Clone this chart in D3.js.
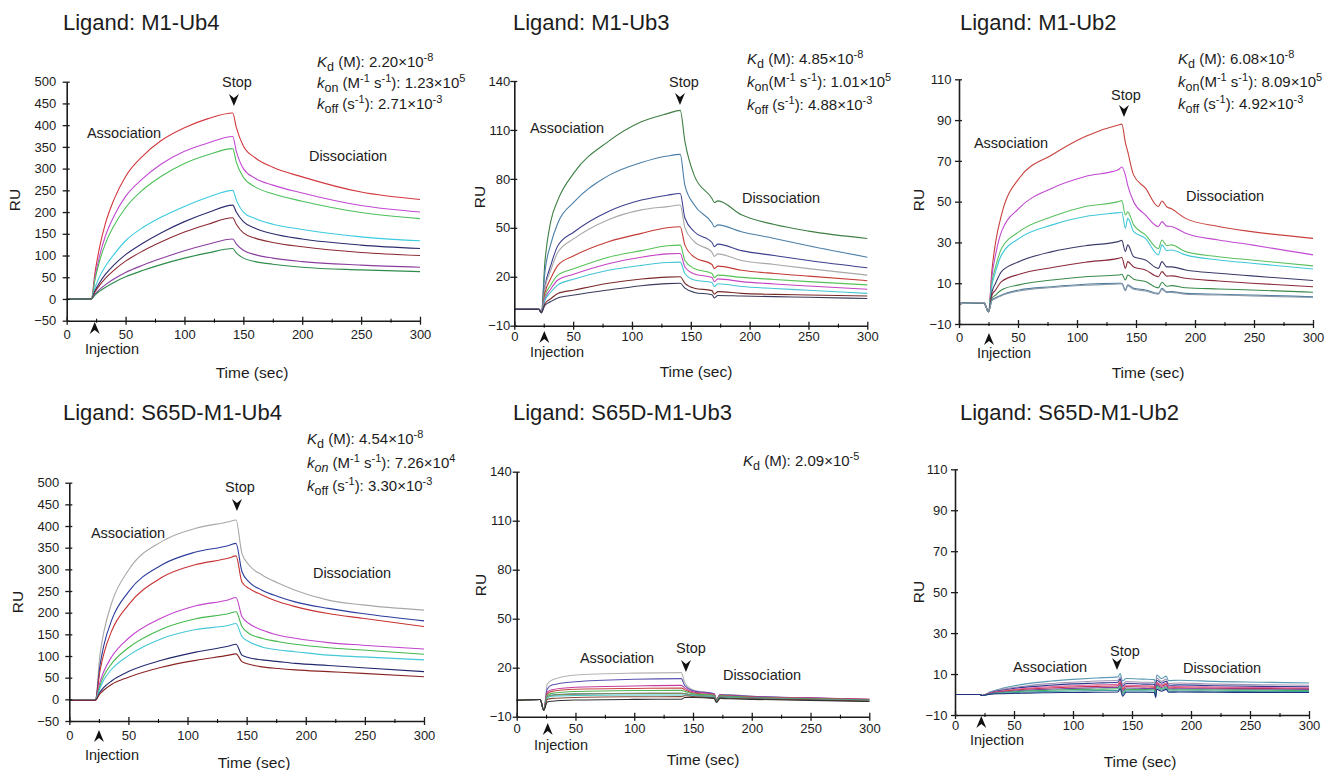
<!DOCTYPE html>
<html>
<head>
<meta charset="utf-8">
<script src="https://cdn.jsdelivr.net/npm/d3@7"></script>
<style>
  body { margin: 0; background: #fff; }
  text { font-family: "Liberation Sans", Arial, Helvetica, sans-serif; fill: #1c1c1c; }
</style>
</head>
<body>
<div id="container"></div>
<script>
/**
 * DATA (RU vs time in sec)
 * */
const timeTicks = [0, 50, 100, 150, 200, 250, 300];
const timeMinor = [25, 75, 125, 175, 225, 275];

// Ligand: M1-Ub4
const ub4Times = [0, 21, 24, 28, 33, 40, 50, 65, 80, 100, 120, 141, 144, 150, 160, 175, 200, 250, 300];
const ub4Colors = ["#d2383e", "#c24ad2", "#4cc05a", "#3ccbe0", "#2c2c6e", "#8c2a34", "#8a3e9e", "#2e8c4c"];
const ub4Values = [
  [0, 0, 60, 120, 175, 228, 282, 330, 364, 394, 415, 428, 395, 352, 325, 303, 281, 246, 229],
  [0, 0, 50, 100, 146, 190, 236, 278, 310, 340, 359, 374, 340, 300, 278, 262, 244, 215, 200],
  [0, 0, 44, 88, 128, 168, 210, 252, 282, 312, 332, 346, 315, 280, 258, 242, 225, 199, 185],
  [0, 0, 26, 52, 76, 102, 134, 165, 188, 213, 234, 250, 228, 200, 185, 172, 160, 143, 134],
  [0, 0, 19, 38, 57, 78, 102, 129, 152, 178, 199, 216, 200, 178, 163, 150, 138, 124, 116],
  [0, 0, 16, 32, 48, 66, 87, 111, 131, 154, 172, 187, 172, 152, 140, 130, 120, 107, 100],
  [0, 0, 11, 22, 33, 46, 61, 78, 93, 111, 126, 138, 127, 112, 102, 94, 86, 78, 73],
  [0, 0, 9, 18, 27, 38, 51, 66, 79, 94, 106, 116, 106, 94, 86, 80, 73, 67, 63]
];
const ub4Ticks = [-50, 0, 50, 100, 150, 200, 250, 300, 350, 400, 450, 500];
const ub4Stats = [
  [["K", "i"], ["d", "sub"], [" (M): 2.20×10"], ["-8", "sup"]],
  [["k", "i"], ["on", "sub"], [" (M"], ["-1", "sup"], [" s"], ["-1", "sup"], ["): 1.23×10"], ["5", "sup"]],
  [["k", "i"], ["off", "sub"], [" (s"], ["-1", "sup"], ["): 2.71×10"], ["-3", "sup"]]
];

// Ligand: M1-Ub3
const ub3Times = [0, 21, 23, 26, 31, 37, 51, 80, 108, 130, 141, 145, 153, 168, 170, 173, 193, 221, 250, 300];
const ub3Colors = ["#3f7f45", "#4a7ea6", "#3c3f8e", "#a8a8a8", "#c43a34", "#55c255", "#c444c4", "#44c4d4", "#7a2a2a", "#3a3a5c"];
const ub3Values = [
  [0, 0, -2, 29, 54, 67, 84, 103, 115, 120, 122, 103, 82, 68, 65.5, 66.5, 58, 52, 48, 43.5],
  [0, 0, -2, 23, 40, 53, 66, 82, 90, 94, 95, 76, 64, 53, 50.5, 51.8, 47.6, 43.5, 39, 32],
  [0, 0, -2, 14, 27, 39, 47.6, 60, 67, 70, 71, 56, 47.6, 41, 38.5, 40, 36, 33, 30, 25.5],
  [0, 0, -2, 13, 24, 35, 43.5, 55, 61, 63, 64, 50, 41.5, 35, 32.5, 34, 30, 27.5, 25, 21],
  [0, 0, -2, 10, 19, 27, 33, 41.5, 46.6, 50, 50.7, 39.4, 32, 27.5, 25, 26.5, 24, 22, 20.4, 17.6],
  [0, 0, -2, 8, 15, 21, 25, 32, 36, 39, 39.4, 30, 25, 22, 19.5, 21, 19.6, 18.3, 17, 15],
  [0, 0, -2, 6.5, 12.5, 18, 21.7, 28, 32, 34, 34.3, 26, 21.7, 19.5, 17, 18.7, 17, 15.6, 14.3, 12.3],
  [0, 0, -2, 5.5, 10.5, 15, 18.6, 24, 27, 28.7, 29, 22, 18, 16.5, 14, 15.7, 14, 12.8, 11.7, 9.8],
  [0, 0, -2, 3.5, 6.5, 9.8, 11.9, 16, 18.6, 19.8, 20, 16, 13, 11.5, 9.3, 10.9, 9.8, 9.2, 8.8, 8.2],
  [0, 0, -2, 2.5, 4.8, 7, 8.8, 11.9, 14.5, 15.8, 16, 13, 10.4, 9, 7, 8.5, 8.2, 7.8, 7.4, 6.7]
];
const ub3Ticks = [-10, 20, 50, 80, 110, 140];
const ub3Stats = [
  [["K", "i"], ["d", "sub"], [" (M): 4.85×10"], ["-8", "sup"]],
  [["k", "i"], ["on", "sub"], ["(M"], ["-1", "sup"], [" s"], ["-1", "sup"], ["): 1.01×10"], ["5", "sup"]],
  [["k", "i"], ["off", "sub"], [" (s"], ["-1", "sup"], ["): 4.88×10"], ["-3", "sup"]]
];

// Ligand: M1-Ub2
const ub2Times = [0, 21, 25, 28, 31, 36, 51, 79, 107, 135, 138, 141, 143, 148, 158, 169, 172, 176, 180, 192, 220, 248, 300];
const ub2Colors = ["#c8413c", "#c04ad0", "#5cc060", "#40c8d8", "#3a3a6a", "#8a2a3a", "#3a8a4a", "#4a7a9a", "#8a9aaa"];
const ub2Values = [
  [0, 0.5, -4, 17, 30, 43.5, 61.5, 73, 82, 87.6, 88, 79, 74.5, 63, 56.6, 47.6, 50.3, 47.5, 46.5, 41.8, 37.8, 35.3, 32],
  [0, 0.5, -4, 14, 24, 35.3, 46.8, 56.6, 62.3, 65.6, 67, 63, 58, 50, 43.5, 37.8, 40.2, 38, 37.8, 34.5, 31.2, 28.8, 23.9],
  [0, 0.5, -4, 10.8, 18, 27, 35.3, 42.7, 47.6, 50, 50.5, 43.5, 45, 38.6, 33.7, 27, 31.2, 28.5, 28.8, 25.5, 23, 21.4, 18.5],
  [0, 0.5, -4, 9.2, 15.7, 23.9, 32, 38.6, 42.7, 44.6, 44.8, 37, 41.8, 35.3, 32, 23.9, 28.8, 26, 26.3, 23.9, 21.4, 19.8, 17],
  [0, 0.5, -4, 5.9, 10, 15.7, 20.6, 25.5, 28.4, 30.4, 31, 25.5, 28.8, 23, 21.4, 17.3, 20.6, 18, 18, 16.5, 14.9, 13.6, 11.3],
  [0, 0.5, -4, 4.2, 6.7, 10.8, 14.4, 17.7, 20.3, 22.2, 22.6, 17.3, 20.6, 18, 16.5, 13.2, 15.7, 13.5, 13.6, 12.4, 11.1, 10, 8.3],
  [0, 0.5, -4, 2.6, 4.2, 6.7, 9.2, 11.6, 13.2, 14, 14.4, 11.6, 14, 12, 10.8, 7.8, 10.5, 8.5, 8.8, 7.8, 7.2, 6.7, 5.6],
  [0, 0.5, -4, 1.8, 2.9, 4.2, 6.7, 8.3, 9.5, 10, 10, 6.7, 9.2, 7.5, 6.7, 5, 7.5, 5.8, 5.9, 5, 4.6, 4.2, 3.4],
  [0, 0.5, -4, 1.5, 2.5, 3.9, 6.2, 7.9, 9, 9.6, 9.7, 6.3, 8.8, 7, 6.2, 4.6, 7, 5.4, 5.5, 4.6, 4.2, 3.8, 3]
];
const ub2Ticks = [-10, 10, 30, 50, 70, 90, 110];
const ub2Stats = [
  [["K", "i"], ["d", "sub"], [" (M): 6.08×10"], ["-8", "sup"]],
  [["k", "i"], ["on", "sub"], ["(M"], ["-1", "sup"], [" s"], ["-1", "sup"], ["): 8.09×10"], ["5", "sup"]],
  [["k", "i"], ["off", "sub"], [" (s"], ["-1", "sup"], ["): 4.92×10"], ["-3", "sup"]]
];

// Ligand: S65D-M1-Ub4
const s4Times = [0, 22, 26, 29, 36, 50, 78, 107, 135, 141, 146, 152, 163, 177, 191, 219, 248, 300];
const s4Colors = ["#a8a8a8", "#2c3c9c", "#c83232", "#c244cc", "#44b84c", "#44c8d8", "#22286c", "#8a2424"];
const s4Values = [
  [-2, -2, 104, 153, 224, 298, 364, 395, 410, 414, 337, 310, 287, 268, 252, 229, 218, 206],
  [-2, -2, 79, 122, 184, 248, 310, 340, 355, 360, 295, 271, 252, 237, 225, 210, 198, 181],
  [-2, -2, 66, 103, 159, 218, 281, 311, 326, 331, 271, 256, 241, 225, 214, 198, 187, 168],
  [-2, -2, 40, 63, 99, 141, 188, 216, 230, 235, 191, 175, 160, 148, 141, 131, 125, 116],
  [-2, -2, 32, 53, 83, 119, 162, 186, 198, 202, 168, 152, 141, 133, 127, 119, 114, 104],
  [-2, -2, 26, 44, 70, 101, 140, 161, 171, 175, 145, 133, 121, 114, 110, 102, 98, 91],
  [-2, -2, 17, 27, 43, 64, 90, 109, 123, 127, 102, 96, 91, 87, 83, 78, 73, 64],
  [-2, -2, 13, 21, 35, 51, 74, 90, 102, 105, 87, 81, 75, 71, 68, 64, 60, 52]
];
const s4Stats = [
  [["K", "i"], ["d", "sub"], [" (M): 4.54×10"], ["-8", "sup"]],
  [["k", "i"], ["on", "subi"], [" (M"], ["-1", "sup"], [" s"], ["-1", "sup"], ["): 7.26×10"], ["4", "sup"]],
  [["k", "i"], ["off", "sub"], [" (s"], ["-1", "sup"], ["): 3.30×10"], ["-3", "sup"]]
];

// Ligand: S65D-M1-Ub3
const s3Times = [0, 20, 23, 26, 30, 50, 100, 140, 143, 150, 168, 170, 173, 180, 200, 250, 300];
const s3Colors = ["#b4b4b4", "#5a52b0", "#c43a9c", "#c84444", "#52b452", "#4482a4", "#8a8a5c", "#44c4c4", "#8a4a3a", "#303030"];
const s3Values = [
  [0, 0.5, -6, 10, 12.4, 15.5, 16.7, 17, 11, 6.5, 4, 0.5, 3.5, 3.5, 2.5, 1.3, 0.3],
  [0, 0.5, -6, 7, 9.4, 11.4, 12.9, 13.3, 9, 5.8, 4, 0.5, 3.5, 3.2, 2.5, 1.5, 0.5],
  [0, 0.5, -6, 5, 6.5, 8, 8.8, 9.2, 7.5, 5.2, 3.8, 0.5, 3.4, 3, 2.2, 1.5, 0.8],
  [0, 0.5, -6, 4, 5.5, 6.8, 7.3, 7.5, 6.5, 4.5, 3.3, 0.3, 3, 2.7, 2, 1.2, 0.5],
  [0, 0.5, -6, 3, 4.3, 5.4, 6, 6.1, 5.5, 4, 3, 0, 2.8, 2.5, 1.8, 1, 0.2],
  [0, 0.5, -6, 2, 3.3, 4, 4.3, 4.4, 4.2, 3.2, 2.5, -0.3, 2.3, 2, 1.5, 0.8, 0],
  [0, 0.5, -6, 2, 3, 3.8, 4.2, 4.3, 4, 3.1, 2.3, -0.5, 2.1, 1.8, 1.3, 0.6, -0.2],
  [0, 0.5, -6, 1.5, 2.5, 3, 3.3, 3.3, 3.3, 2.8, 2, -0.7, 1.9, 1.6, 1.1, 0.5, -0.3],
  [0, 0.5, -6, 0.5, 1.2, 1.8, 2.2, 2.3, 2.8, 2.3, 1.6, -1, 1.5, 1.3, 0.9, 0.3, -0.5],
  [0, 0.5, -6, -1, -0.5, 0.2, 0.6, 0.7, 1.8, 1.8, 1.2, -1.3, 1.2, 1, 0.6, 0, -0.7]
];
const s3Stats = [
  [["K", "i"], ["d", "sub"], [" (M): 2.09×10"], ["-5", "sup"]]
];

// Ligand: S65D-M1-Ub2
const s2Times = [0, 21, 23, 30, 40, 60, 80, 100, 120, 138, 140, 142, 145, 160, 169, 170, 171, 175, 179, 181, 190, 220, 260, 300];
const s2Colors = ["#5a9ab4", "#a494b4", "#2a3a8c", "#e062a2", "#c83244", "#8042a4", "#44b264", "#44a2a2", "#20307e"];
const s2Values = [
  [0, 0, -0.5, 1.3, 3, 5.2, 6.5, 7.4, 8.1, 8.6, 10.2, 6.6, 7.8, 7.5, 7.3, 4.5, 9.5, 7.8, 9, 6.8, 7, 6.4, 6, 5.6],
  [0, 0, -0.5, 1, 2.5, 4.2, 5.3, 6, 6.6, 7, 8.5, 5, 6.3, 6, 5.9, 3, 8, 6.4, 7.5, 5.4, 5.6, 5.1, 4.8, 4.5],
  [0, 0, -0.5, 0.9, 2.1, 3.6, 4.5, 5.2, 5.6, 6, 7.5, 4, 5.4, 5.1, 5, 2.2, 7, 5.5, 6.5, 4.5, 4.7, 4.3, 4, 3.8],
  [0, 0, -0.5, 0.8, 1.8, 3, 3.8, 4.3, 4.7, 5, 6.5, 3, 4.5, 4.3, 4.2, 1.5, 6, 4.7, 5.6, 3.8, 3.9, 3.6, 3.4, 3.3],
  [0, 0, -0.5, 0.6, 1.5, 2.6, 3.2, 3.7, 4, 4.3, 5.8, 2.4, 3.9, 3.7, 3.6, 1, 5.4, 4.1, 5, 3.2, 3.3, 3.1, 2.9, 2.8],
  [0, 0, -0.5, 0.5, 1.2, 2.1, 2.6, 3, 3.3, 3.5, 5, 1.5, 3.2, 3, 2.9, 0.2, 4.7, 3.4, 4.3, 2.7, 2.8, 2.7, 2.6, 2.5],
  [0, 0, -0.5, 0.4, 1, 1.7, 2.1, 2.4, 2.6, 2.8, 4.2, 0.8, 2.5, 2.4, 2.3, -0.5, 4, 2.8, 3.7, 2.2, 2.3, 2.2, 2.1, 2],
  [0, 0, -0.5, 0.3, 0.7, 1.2, 1.5, 1.7, 1.9, 2, 3.5, 0, 1.8, 1.8, 1.7, -1, 3.3, 2.2, 3.1, 1.6, 1.7, 1.6, 1.5, 1.5],
  [0, 0, -0.5, 0.2, 0.4, 0.7, 0.9, 1, 1.1, 1.2, 2.8, -0.8, 1.1, 1.1, 1, -1.5, 2.6, 1.6, 2.5, 1.1, 1.2, 1.1, 1, 1]
];

/**
 * LAYOUT (pixel frame of each panel + annotation spots)
 * */
const panels = [
  { title: "Ligand: M1-Ub4", times: ub4Times, values: ub4Values, colors: ub4Colors, yTicks: ub4Ticks, stats: ub4Stats,
    left: 66.7, right: 420, top: 81.7, bottom: 320.7, xPad: 5.5, yPad: 6.5,
    titleXY: [63, 30], statsXY: [317, 67], statsGap: 21,
    stop: [142, 106, 237, 87], inj: [23.8, 322, 112, 354],
    assoc: [124, 138], dissoc: [348, 161], timeXY: [252, 378], ruXY: [15, 200] },
  { title: "Ligand: M1-Ub3", times: ub3Times, values: ub3Values, colors: ub3Colors, yTicks: ub3Ticks, stats: ub3Stats,
    left: 514.3, right: 867.3, top: 81, bottom: 325.7, xPad: 2, yPad: 0,
    titleXY: [513, 30], statsXY: [747, 64], statsGap: 23,
    stop: [140.8, 105, 684, 87], inj: [25.5, 331, 557, 357],
    assoc: [567, 133], dissoc: [781, 203], timeXY: [696, 377], ruXY: [480, 197] },
  { title: "Ligand: M1-Ub2", times: ub2Times, values: ub2Values, colors: ub2Colors, yTicks: ub2Ticks, stats: ub2Stats,
    left: 959, right: 1313, top: 79.3, bottom: 324, xPad: 5, yPad: 3.5,
    titleXY: [960, 30], statsXY: [1178, 64], statsGap: 22.5,
    stop: [139.8, 117, 1126, 100], inj: [25.4, 333, 1004, 358],
    assoc: [1011, 148], dissoc: [1225, 201], timeXY: [1148, 378], ruXY: [919, 200] },
  { title: "Ligand: S65D-M1-Ub4", times: s4Times, values: s4Values, colors: s4Colors, yTicks: ub4Ticks, stats: s4Stats,
    left: 69.3, right: 424, top: 482.7, bottom: 721, xPad: 5.5, yPad: 6,
    titleXY: [63, 420], statsXY: [307, 444], statsGap: 23.5,
    stop: [141.8, 511, 240, 492], inj: [25.1, 730, 112, 760],
    assoc: [128, 538], dissoc: [352, 578], timeXY: [254, 768], ruXY: [18, 602] },
  { title: "Ligand: S65D-M1-Ub3", times: s3Times, values: s3Values, colors: s3Colors, yTicks: ub3Ticks, stats: s3Stats,
    left: 516.7, right: 869.3, top: 471.7, bottom: 716.7, xPad: 3, yPad: 1,
    titleXY: [513, 420], statsXY: [743, 466], statsGap: 22,
    stop: [144, 672, 691, 653], inj: [26.4, 723, 561, 750],
    assoc: [617, 663], dissoc: [762, 680], timeXY: [703, 765], ruXY: [481, 585] },
  { title: "Ligand: S65D-M1-Ub2", times: s2Times, values: s2Values, colors: s2Colors, yTicks: ub2Ticks, stats: [],
    left: 955, right: 1309, top: 469.3, bottom: 715, xPad: 1.5, yPad: 3.5,
    titleXY: [960, 420], statsXY: [0, 0], statsGap: 0,
    stop: [137.3, 670, 1125, 656], inj: [22.3, 716, 997, 745],
    assoc: [1050, 672], dissoc: [1222, 673], timeXY: [1140, 767], ruXY: [919, 592] }
];

const svg = d3.select("#container")
  .append("svg")
  .attr("width", 1344)
  .attr("height", 770)
  .style("background-color", "#fff");

const downArrow = "M0,0 L-5,-12 L0,-8 L5,-12 Z";
const upArrow = "M0,0 L-5,12 L0,8 L5,12 Z";

panels.forEach(drawPanel);

function drawPanel(p) {
  const yDomain = d3.extent(p.yTicks);
  const x = d3.scaleLinear().domain([0, 300]).range([p.left, p.right]);
  const y = d3.scaleLinear().domain(yDomain).range([p.bottom, p.top]);
  const g = svg.append("g");

  // sensorgram traces
  const line = d3.line()
    .x(d => x(d[0]))
    .y(d => y(d[1]))
    .curve(d3.curveMonotoneX);

  g.selectAll("path.trace")
    .data(p.values)
    .join("path")
    .attr("class", "trace")
    .attr("d", v => line(p.times.map((t, i) => [t, v[i]])))
    .attr("fill", "none")
    .attr("stroke", (d, i) => p.colors[i])
    .attr("stroke-width", 1.1);

  // axes
  const yAxis = g.append("g")
    .attr("transform", `translate(${p.left},0)`)
    .call(d3.axisLeft(y).tickValues(p.yTicks).tickSize(4).tickSizeOuter(0).tickPadding(p.yPad));
  yAxis.selectAll(".tick line").attr("x1", 3).attr("x2", -4);

  const xAxis = g.append("g")
    .attr("transform", `translate(0,${p.bottom})`)
    .call(d3.axisBottom(x).tickValues(timeTicks).tickSize(4).tickSizeOuter(0).tickPadding(p.xPad));
  xAxis.selectAll(".tick line").attr("y1", -4).attr("y2", 4);

  g.append("g")
    .attr("transform", `translate(0,${p.bottom})`)
    .call(d3.axisBottom(x).tickValues(timeMinor).tickSize(2).tickFormat(""))
    .call(a => a.select(".domain").remove())
    .selectAll(".tick line").attr("y1", -2).attr("y2", 2);

  [yAxis, xAxis].forEach(a => {
    a.select(".domain").attr("stroke", "#1c1c1c").attr("stroke-width", 1.6);
    a.selectAll(".tick line").attr("stroke", "#1c1c1c").attr("stroke-width", 1.3);
    a.selectAll(".tick text").attr("font-size", 13).attr("fill", "#1c1c1c")
      .attr("font-family", "Liberation Sans, Arial, sans-serif");
  });

  // title
  g.append("text")
    .attr("x", p.titleXY[0]).attr("y", p.titleXY[1])
    .attr("font-size", 22)
    .text(p.title);

  // kinetic constants
  p.stats.forEach((segs, li) => {
    const t = g.append("text")
      .attr("x", p.statsXY[0])
      .attr("y", p.statsXY[1] + li * p.statsGap)
      .attr("font-size", 15);
    let shift = 0;
    segs.forEach(([s, kind]) => {
      const want = kind === "sub" || kind === "subi" ? 4 : kind === "sup" ? -6 : 0;
      const ts = t.append("tspan").attr("dy", want - shift).text(s);
      shift = want;
      if (kind === "i" || kind === "subi") ts.attr("font-style", "italic");
      if (kind === "sub" || kind === "subi") ts.attr("font-size", 12.5);
      if (kind === "sup") ts.attr("font-size", 11);
    });
  });

  // stop / injection markers
  g.append("path")
    .attr("d", downArrow)
    .attr("transform", `translate(${x(p.stop[0])},${p.stop[1]})`)
    .attr("fill", "#111");
  g.append("text")
    .attr("x", p.stop[2]).attr("y", p.stop[3])
    .attr("text-anchor", "middle").attr("font-size", 14.5)
    .text("Stop");

  g.append("path")
    .attr("d", upArrow)
    .attr("transform", `translate(${x(p.inj[0])},${p.inj[1]})`)
    .attr("fill", "#111");
  g.append("text")
    .attr("x", p.inj[2]).attr("y", p.inj[3])
    .attr("text-anchor", "middle").attr("font-size", 14.5)
    .text("Injection");

  g.append("text")
    .attr("x", p.assoc[0]).attr("y", p.assoc[1])
    .attr("text-anchor", "middle").attr("font-size", 14.5)
    .text("Association");
  g.append("text")
    .attr("x", p.dissoc[0]).attr("y", p.dissoc[1])
    .attr("text-anchor", "middle").attr("font-size", 14.5)
    .text("Dissociation");

  // axis titles
  g.append("text")
    .attr("x", p.timeXY[0]).attr("y", p.timeXY[1])
    .attr("text-anchor", "middle").attr("font-size", 15.5)
    .text("Time (sec)");
  g.append("text")
    .attr("transform", `translate(${p.ruXY[0] + 5},${p.ruXY[1]}) rotate(-90)`)
    .attr("text-anchor", "middle").attr("font-size", 15.5)
    .text("RU");
}
</script>
</body>
</html>
